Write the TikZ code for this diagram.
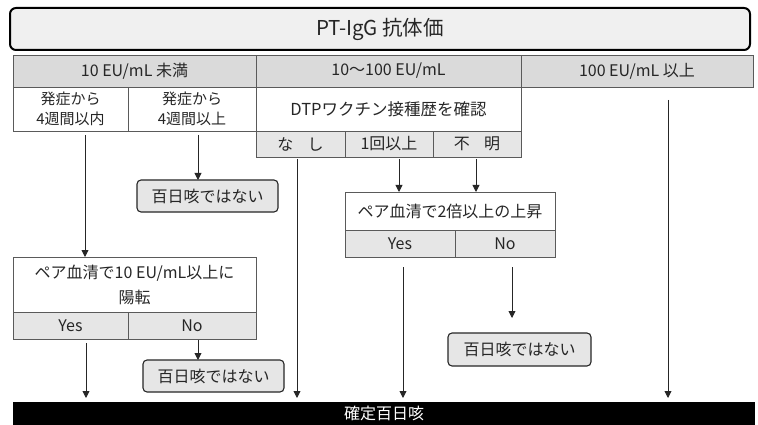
\documentclass[tikz,border=0pt]{standalone}
\usepackage{fontspec}
\setmainfont{Noto Sans CJK JP}
\usetikzlibrary{arrows.meta}
\definecolor{ln}{HTML}{5A5A5A}
\definecolor{hdr}{HTML}{DADADA}
\definecolor{cellg}{HTML}{E6E6E6}
\definecolor{txt}{HTML}{262626}
\begin{document}
\begin{tikzpicture}[x=1pt,y=-1pt,
  cell/.style={draw=ln, line width=0.8pt, inner sep=0pt, outer sep=0pt, text=txt,
    font=\fontsize{16}{20}\selectfont, align=center},
  hcell/.style={cell, fill=hdr},
  gcell/.style={cell, fill=cellg},
  notbox/.style={draw=black!85, line width=1.1pt, rounded corners=4pt, fill=cellg,
    inner sep=0pt, outer sep=0pt, text=txt, font=\fontsize{16}{20}\selectfont},
  arr/.style={draw=black!85, line width=0.9pt, -{Triangle[length=7pt,width=7pt]}}
]
\useasboundingbox (0,0) rectangle (758,425);

% title
\node[draw=black, line width=2pt, rounded corners=6pt, fill=black!6, text=txt,
  minimum width=740pt, minimum height=42pt, inner sep=0pt, outer sep=0pt,
  font=\fontsize{20.5}{24}\selectfont] (title) at (380,29) {PT-IgG 抗体価};

% header row
\node[hcell, minimum width=243pt, minimum height=32pt] (h1) at (134.5,71) {10 EU/mL 未満};
\node[hcell, minimum width=265pt, minimum height=32pt] (h2) at (388.5,71) {10〜100 EU/mL};
\node[hcell, minimum width=232pt, minimum height=32pt] (h3) at (637,71) {100 EU/mL 以上};

% second row
\node[cell, minimum width=115pt, minimum height=44pt, font=\fontsize{15}{20.5}\selectfont] (a1) at (70.5,109) {発症から\\4週間以内};
\node[cell, minimum width=128pt, minimum height=44pt, font=\fontsize{15}{20.5}\selectfont] (a2) at (192,109) {発症から\\4週間以上};
\node[cell, minimum width=265pt, minimum height=44pt, font=\fontsize{16.5}{20}\selectfont] (dtp) at (388.5,109) {DTPワクチン接種歴を確認};
\node[gcell, minimum width=89pt, minimum height=26pt] (n1) at (300.5,144) {な\hspace{0.9em}し};
\node[gcell, minimum width=88pt, minimum height=26pt] (n2) at (389,144) {1回以上};
\node[gcell, minimum width=88pt, minimum height=26pt] (n3) at (477,144) {不\hspace{0.9em}明};

% left branch
\node[notbox, minimum width=141pt, minimum height=32pt] (no1) at (207.5,196) {百日咳ではない};
\node[cell, minimum width=243pt, minimum height=55pt, font=\fontsize{16}{25}\selectfont] (p1) at (134.5,284.5) {ペア血清で10 EU/mL以上に\\陽転};
\node[gcell, minimum width=115pt, minimum height=27pt] (y1) at (70.5,325.5) {Yes};
\node[gcell, minimum width=128pt, minimum height=27pt] (m1) at (192,325.5) {No};
\node[notbox, minimum width=141pt, minimum height=32pt] (no2) at (213.5,376) {百日咳ではない};

% middle branch
\node[cell, minimum width=210pt, minimum height=38pt] (p2) at (450,211) {ペア血清で2倍以上の上昇};
\node[gcell, minimum width=110pt, minimum height=27pt] (y2) at (400,243.5) {Yes};
\node[gcell, minimum width=100pt, minimum height=27pt] (m2) at (505,243.5) {No};
\node[notbox, minimum width=143pt, minimum height=33pt] (no3) at (519.5,349.5) {百日咳ではない};

% final bar
\node[fill=black, minimum width=742pt, minimum height=23pt, inner sep=0pt, outer sep=0pt,
  text=white, font=\fontsize{16}{18}\selectfont] (final) at (384,413.5) {\raisebox{-2pt}{確定百日咳}};

% x positions of connectors
\coordinate (xa) at (85,0);
\coordinate (xb) at (198,0);
\coordinate (xc) at (86,0);
\coordinate (xd) at (297,0);
\coordinate (xe) at (399,0);
\coordinate (xf) at (476,0);
\coordinate (xg) at (403,0);
\coordinate (xh) at (512,0);
\coordinate (xi) at (668,0);

% connectors
\draw[arr, shorten <=4pt] (a1.south -| xa) -- (xa |- p1.north);
\draw[arr, shorten <=4pt] (a2.south -| xb) -- (xb |- no1.north);
\draw[arr, shorten <=4pt, shorten >=4pt] (y1.south -| xc) -- (xc |- final.north);
\draw[arr, shorten <=1pt] (m1.south -| xb) -- (xb |- no2.north);
\draw[arr, shorten <=2pt, shorten >=4pt] (n1.south -| xd) -- (xd |- final.north);
\draw[arr, shorten <=2pt] (n2.south -| xe) -- (xe |- p2.north);
\draw[arr, shorten <=2pt] (n3.south -| xf) -- (xf |- p2.north);
\draw[arr, shorten <=10pt, shorten >=4pt] (y2.south -| xg) -- (xg |- final.north);
\draw[arr, shorten <=10pt, shorten >=15pt] (m2.south -| xh) -- (xh |- no3.north);
\draw[arr, shorten <=13pt, shorten >=4pt] (h3.south -| xi) -- (xi |- final.north);
\end{tikzpicture}
\end{document}
